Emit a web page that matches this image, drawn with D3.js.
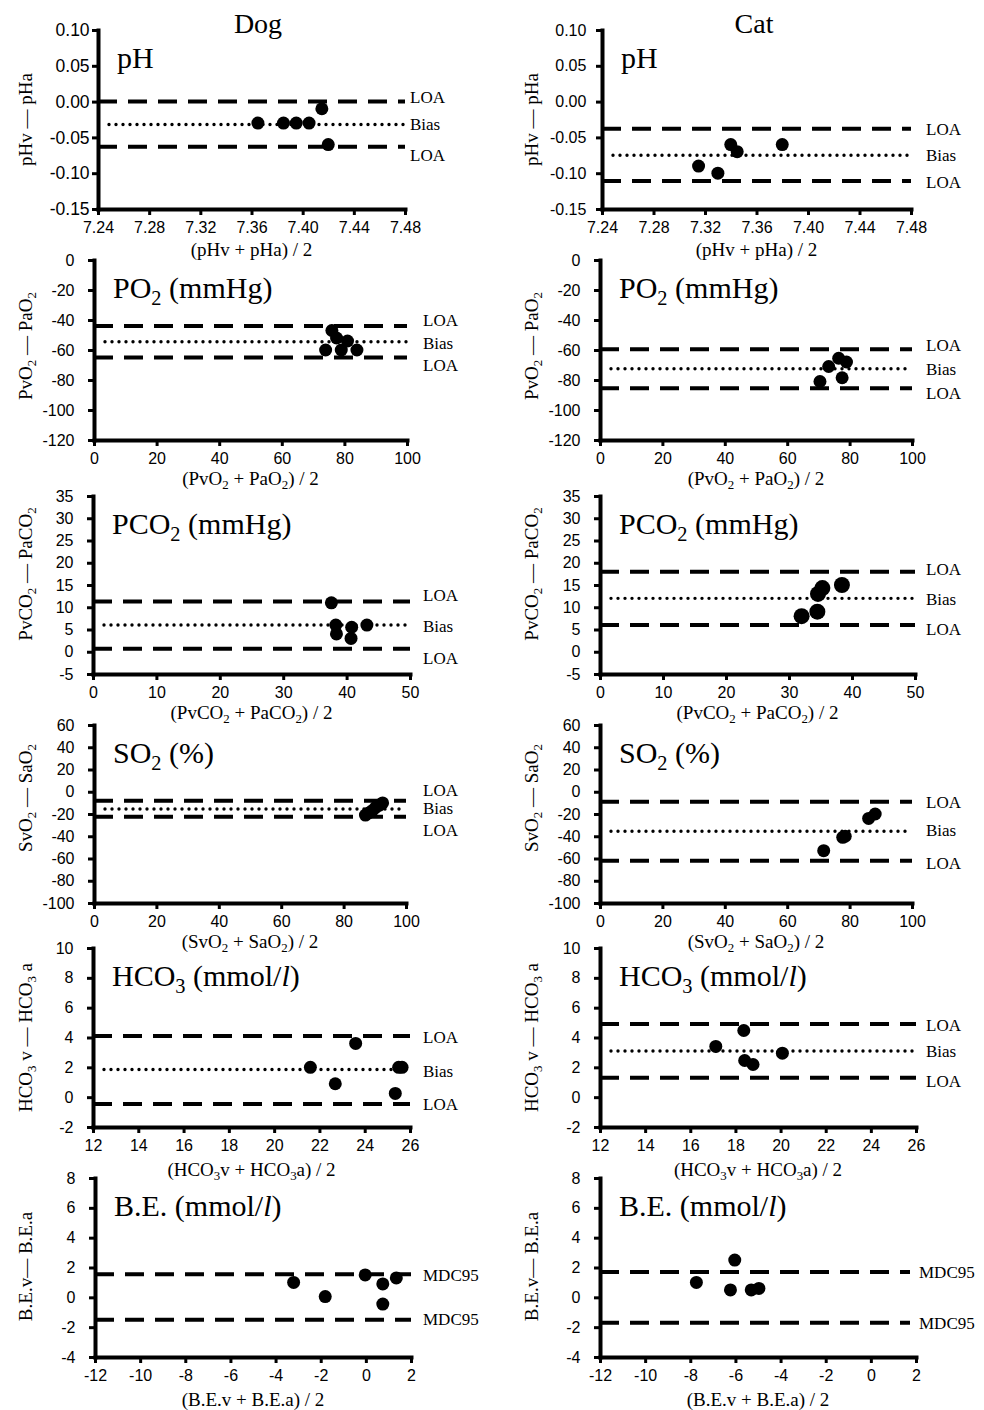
<!DOCTYPE html>
<html lang="en">
<head>
<meta charset="UTF-8">
<title>Venous vs arterial blood gas, dog and cat</title>
<script src="https://cdn.jsdelivr.net/npm/d3@7"></script>
<style>
  body { margin: 0; background: #fff; }
  svg { display: block; }
  .serif { font-family: "Liberation Serif", "Times New Roman", serif; fill: #000; }
  .tick text { font-family: "Liberation Sans", Arial, sans-serif; fill: #000; }
</style>
</head>
<body>
<svg width="984" height="1410"></svg>
<script>
// [mean of venous+arterial, venous - arterial] per animal
var dogPH   = [[7.365,-0.03],[7.385,-0.03],[7.395,-0.03],[7.405,-0.03],[7.415,-0.01],[7.42,-0.06]];
var catPH   = [[7.315,-0.09],[7.33,-0.10],[7.34,-0.06],[7.345,-0.07],[7.38,-0.06]];
var dogPO2  = [[74,-60],[76,-47],[77.5,-52],[79,-60],[81,-54],[84,-60]];
var catPO2  = [[70.5,-81],[73.3,-71],[76.5,-65.5],[79,-68],[77.6,-78.5]];
var dogPCO2 = [[37.6,11],[38.3,6],[38.4,4],[40.8,5.5],[40.7,3],[43.2,6]];
var catPCO2 = [[32,8],[34.5,9],[34.6,13],[35.3,14.3],[38.4,15]];
var dogSO2  = [[87,-21],[88,-19],[89.2,-17],[90.3,-14],[91.5,-12],[92.5,-10]];
var catSO2  = [[71.7,-53],[77.8,-41],[78.6,-40],[86.1,-24],[88.2,-20]];
var dogHCO3 = [[21.6,2],[22.7,0.9],[23.6,3.6],[25.35,0.25],[25.5,2],[25.65,2]];
var catHCO3 = [[17.13,3.4],[18.37,4.47],[18.41,2.46],[18.78,2.19],[20.08,2.95]];
var dogBE   = [[-3.2,1],[-1.8,0.05],[-0.03,1.5],[0.75,0.9],[0.75,-0.45],[1.35,1.3]];
var catBE   = [[-7.73,1],[-6.22,0.5],[-6.03,2.5],[-5.3,0.5],[-4.96,0.6]];

// reference lines [upper, bias, lower]
var dogPHLines   = [0.000, -0.032, -0.063];
var catPHLines   = [-0.038, -0.075, -0.111];
var dogPO2Lines  = [-44, -54.5, -65];
var catPO2Lines  = [-59.5, -72.5, -85.5];
var dogPCO2Lines = [11.3, 6, 0.7];
var catPCO2Lines = [18, 12, 6];
var dogSO2Lines  = [-8, -15.5, -22.5];
var catSO2Lines  = [-9, -35.5, -62];
var dogHCO3Lines = [4.1, 1.85, -0.45];
var catHCO3Lines = [4.9, 3.1, 1.3];
var dogBELines   = [1.55, null, -1.5];
var catBELines   = [1.7, null, -1.7];

var loaNames = ["LOA", "Bias", "LOA"];
var mdcNames = ["MDC95", null, "MDC95"];

// tick values
var phXTicks   = [7.24, 7.28, 7.32, 7.36, 7.40, 7.44, 7.48];
var phYTicks   = [-0.15, -0.10, -0.05, 0.00, 0.05, 0.10];
var po2XTicks  = [0, 20, 40, 60, 80, 100];
var po2YTicks  = [-120, -100, -80, -60, -40, -20, 0];
var pco2XTicks = [0, 10, 20, 30, 40, 50];
var pco2YTicks = [-5, 0, 5, 10, 15, 20, 25, 30, 35];
var so2XTicks  = [0, 20, 40, 60, 80, 100];
var so2YTicks  = [-100, -80, -60, -40, -20, 0, 20, 40, 60];
var hco3XTicks = [12, 14, 16, 18, 20, 22, 24, 26];
var hco3YTicks = [-2, 0, 2, 4, 6, 8, 10];
var beXTicks   = [-12, -10, -8, -6, -4, -2, 0, 2];
var beYTicks   = [-4, -2, 0, 2, 4, 6, 8];

var columns = ["Dog", "Cat"];

var rows = [
  {title: "pH", yTitle: "pHv — pHa", xTitle: "(pHv + pHa) / 2", fmt: ".2f",
   xTicks: phXTicks, yTicks: phYTicks, names: loaNames,
   dog: dogPH, cat: catPH, dogLines: dogPHLines, catLines: catPHLines},
  {title: "PO_2 (mmHg)", yTitle: "PvO_2 — PaO_2", xTitle: "(PvO_2 + PaO_2) / 2", fmt: "d",
   xTicks: po2XTicks, yTicks: po2YTicks, names: loaNames,
   dog: dogPO2, cat: catPO2, dogLines: dogPO2Lines, catLines: catPO2Lines},
  {title: "PCO_2 (mmHg)", yTitle: "PvCO_2 — PaCO_2", xTitle: "(PvCO_2 + PaCO_2) / 2", fmt: "d",
   xTicks: pco2XTicks, yTicks: pco2YTicks, names: loaNames,
   dog: dogPCO2, cat: catPCO2, dogLines: dogPCO2Lines, catLines: catPCO2Lines},
  {title: "SO_2 (%)", yTitle: "SvO_2 — SaO_2", xTitle: "(SvO_2 + SaO_2) / 2", fmt: "d",
   xTicks: so2XTicks, yTicks: so2YTicks, names: loaNames,
   dog: dogSO2, cat: catSO2, dogLines: dogSO2Lines, catLines: catSO2Lines},
  {title: "HCO_3 (mmol/*l*)", yTitle: "HCO_3 v — HCO_3 a", xTitle: "(HCO_3v + HCO_3a) / 2", fmt: "d",
   xTicks: hco3XTicks, yTicks: hco3YTicks, names: loaNames,
   dog: dogHCO3, cat: catHCO3, dogLines: dogHCO3Lines, catLines: catHCO3Lines},
  {title: "B.E. (mmol/*l*)", yTitle: "B.E.v— B.E.a", xTitle: "(B.E.v + B.E.a) / 2", fmt: "d",
   xTicks: beXTicks, yTicks: beYTicks, names: mdcNames,
   dog: dogBE, cat: catBE, dogLines: dogBELines, catLines: catBELines}
];

// layout (pixels)
var rowBox = [
  {top: 30,   bottom: 209,  yTitleDy: 0,   xTitleDy: 41},
  {top: 260,  bottom: 440,  yTitleDy: -4,  xTitleDy: 39},
  {top: 496,  bottom: 674,  yTitleDy: -11, xTitleDy: 39},
  {top: 725,  bottom: 903,  yTitleDy: -16, xTitleDy: 39},
  {top: 948,  bottom: 1127, yTitleDy: 0,   xTitleDy: 43},
  {top: 1178, bottom: 1357, yTitleDy: -1,  xTitleDy: 43}
];
var dogBox = [
  {x0: 98, x1: 405, labelX: 410, labelDy: [-5, 0, 8],   tickPad: 8.4, yFont: 17.5},
  {x0: 94, x1: 407, labelX: 423, labelDy: [-6, 1, 8]},
  {x0: 93, x1: 410, labelX: 423, labelDy: [-6, 1, 9]},
  {x0: 94, x1: 406, labelX: 423, labelDy: [-11, -1, 13]},
  {x0: 93, x1: 410, labelX: 423, labelDy: [1, 1, 0]},
  {x0: 95, x1: 411, labelX: 423, labelDy: [1, 0, -1]}
];
var catBox = [
  {x0: 602, x1: 911, labelX: 926, labelDy: [0, 0, 1], tickPad: 15.6},
  {x0: 600, x1: 912, labelX: 926, labelDy: [-4, 0, 5]},
  {x0: 600, x1: 915, labelX: 926, labelDy: [-3, 1, 4], r: 8},
  {x0: 600, x1: 912, labelX: 926, labelDy: [0, -1, 2]},
  {x0: 600, x1: 916, labelX: 926, labelDy: [1, 0, 3]},
  {x0: 600, x1: 916, labelX: 919, labelDy: [0, 0, 0], lineEnd: 910}
];
var yTitleX = [26, 532];
var columnTitleX = [258, 754];

var svg = d3.select("svg");
svg.append("rect").attr("width", 984).attr("height", 1410).attr("fill", "#fff");

// text with "_3" subscripts and "*l*" italics
function rich(sel, str, size) {
  var parts = str.split(/(_\d|\*[^*]+\*)/).filter(function(s) { return s.length; });
  var back = 0;
  parts.forEach(function(p) {
    if (p[0] === "_") {
      sel.append("tspan").attr("font-size", size * 0.68).attr("dy", size * 0.22).text(p.slice(1));
      back = -size * 0.22;
    } else {
      var t = sel.append("tspan").attr("dy", back);
      if (p[0] === "*") t.attr("font-style", "italic").text(p.slice(1, -1));
      else t.text(p);
      back = 0;
    }
  });
}

function fmtTick(spec) {
  var f = d3.format(spec);
  return function(d) { return f(d).replace("−", "-"); };
}

columns.forEach(function(c, j) {
  svg.append("text").attr("class", "serif")
    .attr("x", columnTitleX[j]).attr("y", 33)
    .attr("text-anchor", "middle").attr("font-size", 28)
    .text(c);
});

rows.forEach(function(row, i) {
  var rb = rowBox[i];
  [dogBox[i], catBox[i]].forEach(function(box, j) {
    var data = j === 0 ? row.dog : row.cat;
    var lines = j === 0 ? row.dogLines : row.catLines;
    var x = d3.scaleLinear()
      .domain([row.xTicks[0], row.xTicks[row.xTicks.length - 1]])
      .range([box.x0, box.x1]);
    var y = d3.scaleLinear()
      .domain([row.yTicks[0], row.yTicks[row.yTicks.length - 1]])
      .range([rb.bottom, rb.top]);
    var g = svg.append("g");
    var f = fmtTick(row.fmt);
    var lineEnd = box.lineEnd || box.x1;

    // reference lines
    lines.forEach(function(v, k) {
      if (v === null) return;
      var isBias = k === 1;
      g.append("line")
        .attr("x1", isBias ? box.x0 + 11 : box.x0)
        .attr("x2", lineEnd)
        .attr("y1", y(v)).attr("y2", y(v))
        .attr("stroke", "#000")
        .attr("stroke-width", isBias ? 3.4 : 4)
        .attr("stroke-dasharray", isBias ? "0 7" : "19 11")
        .attr("stroke-linecap", isBias ? "round" : "butt");
      g.append("text").attr("class", "serif")
        .attr("x", box.labelX)
        .attr("y", y(v) + box.labelDy[k])
        .attr("dy", "0.35em")
        .attr("font-size", 17)
        .text(row.names[k]);
    });

    // points
    g.selectAll("circle.pt").data(data).enter().append("circle")
      .attr("class", "pt")
      .attr("cx", function(d) { return x(d[0]); })
      .attr("cy", function(d) { return y(d[1]); })
      .attr("r", box.r || 6.5)
      .attr("fill", "#000");

    // axes
    var pad = box.tickPad || 19.5;
    var ya = g.append("g").attr("transform", "translate(" + box.x0 + ",0)")
      .call(d3.axisLeft(y).tickValues(row.yTicks).tickFormat(f)
        .tickSize(6).tickSizeOuter(0).tickPadding(pad - 6));
    var xa = g.append("g").attr("transform", "translate(0," + rb.bottom + ")")
      .call(d3.axisBottom(x).tickValues(row.xTicks).tickFormat(f)
        .tickSize(6).tickSizeOuter(0).tickPadding(7));
    [ya, xa].forEach(function(a) {
      a.select(".domain").attr("stroke", "#000").attr("stroke-width", 4).attr("stroke-linecap", "square");
      a.selectAll(".tick line").attr("stroke", "#000").attr("stroke-width", 3);
      a.selectAll(".tick text").attr("font-size", 16);
    });
    if (box.yFont) ya.selectAll(".tick text").attr("font-size", box.yFont);

    // panel title
    var t = g.append("text").attr("class", "serif")
      .attr("x", box.x0 + 19).attr("y", rb.top + 38)
      .attr("font-size", 30);
    rich(t, row.title, 30);

    // y title
    var cy = (rb.top + rb.bottom) / 2 + rb.yTitleDy;
    var yt = g.append("text").attr("class", "serif")
      .attr("transform", "translate(" + (yTitleX[j] + 6.3) + "," + cy + ") rotate(-90)")
      .attr("text-anchor", "middle").attr("font-size", 19);
    rich(yt, row.yTitle, 19);

    // x title
    var xt = g.append("text").attr("class", "serif")
      .attr("x", (box.x0 + box.x1) / 2)
      .attr("y", rb.bottom + rb.xTitleDy + 5.5)
      .attr("text-anchor", "middle").attr("font-size", 19);
    rich(xt, row.xTitle, 19);
  });
});
</script>
</body>
</html>
